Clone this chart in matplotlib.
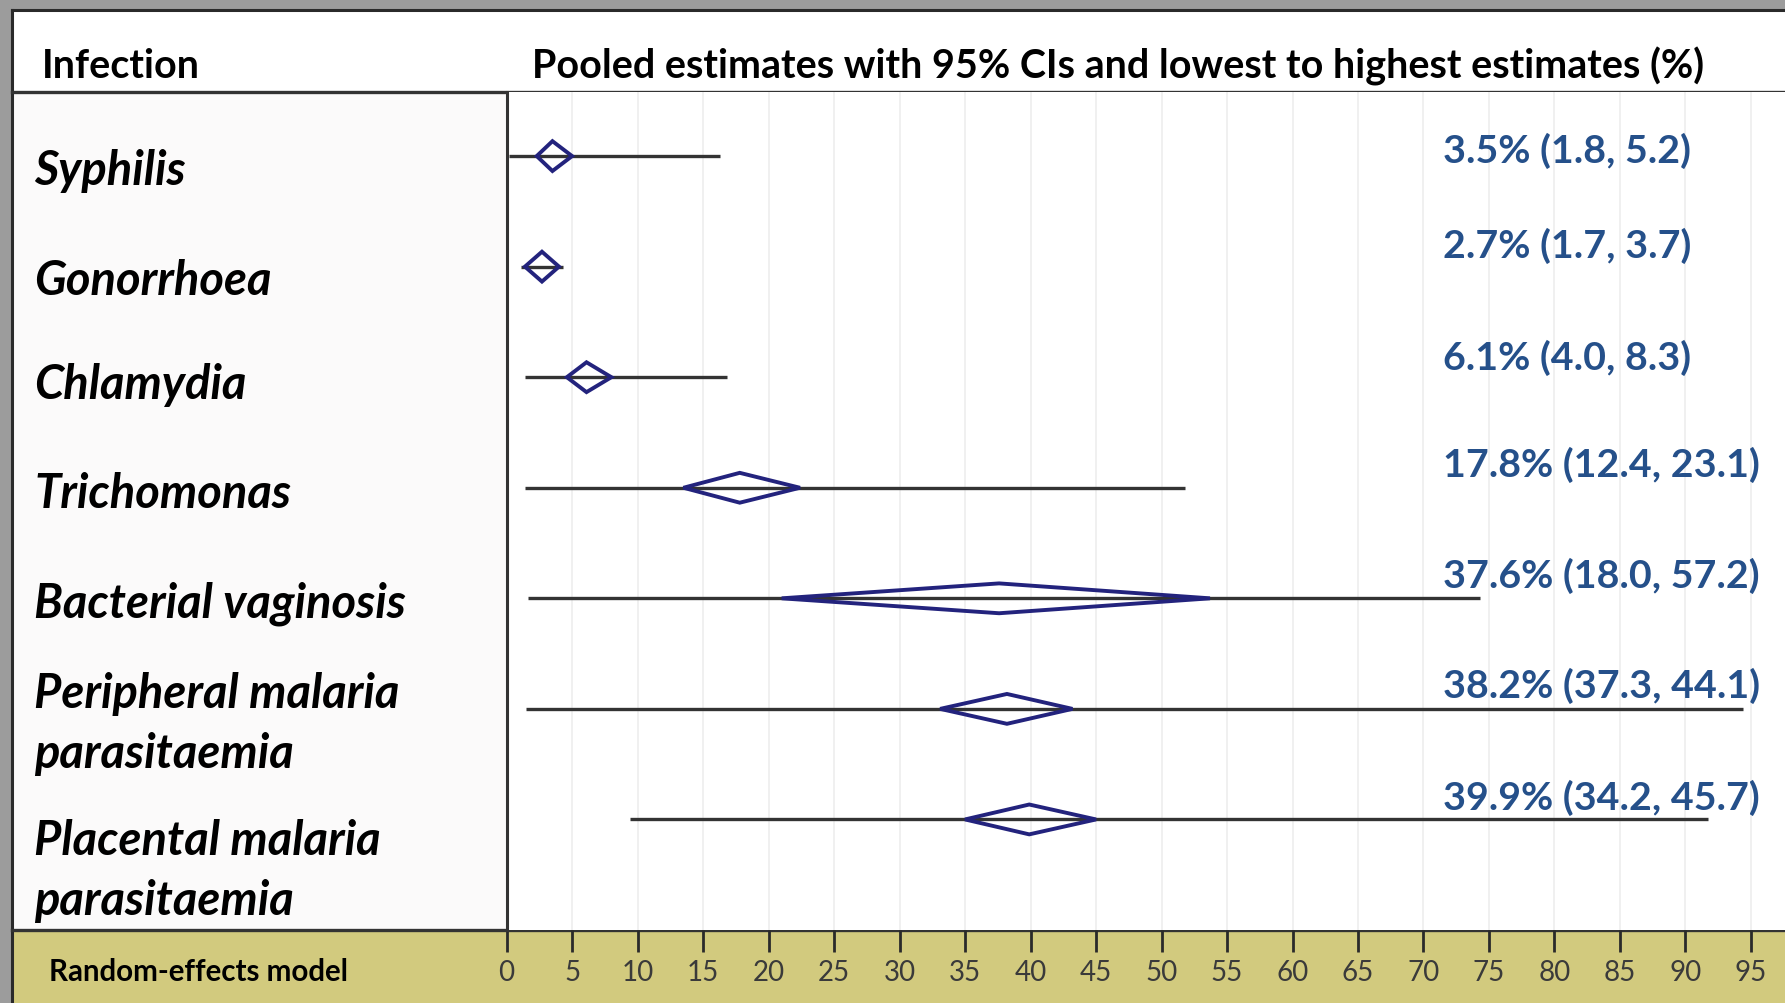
import matplotlib
matplotlib.use("Agg")
import matplotlib.pyplot as plt
import numpy as np
from matplotlib.patches import Rectangle, Polygon
from matplotlib.transforms import blended_transform_factory
from matplotlib import font_manager

# ---------------- data ----------------
infections = ["Syphilis", "Gonorrhoea", "Chlamydia", "Trichomonas",
              "Bacterial vaginosis", "Peripheral malaria\nparasitaemia",
              "Placental malaria\nparasitaemia"]
pooled = [3.5, 2.7, 6.1, 17.8, 37.6, 38.2, 39.9]
ci_low = [1.8, 1.7, 4.0, 12.4, 18.0, 37.3, 34.2]
ci_high = [5.2, 3.7, 8.3, 23.1, 57.2, 44.1, 45.7]
diamond_left = [2.3, 1.4, 4.6, 13.5, 21.0, 33.1, 35.0]
diamond_right = [5.0, 4.0, 8.0, 22.4, 53.7, 43.2, 45.0]
range_low = [0.2, 1.1, 1.4, 1.4, 1.6, 1.5, 9.4]
range_high = [16.3, 4.3, 16.8, 51.8, 74.3, 94.4, 91.7]
xticks = list(range(0, 100, 5))

header_left = "Infection"
header_right = "Pooled estimates with 95% CIs and lowest to highest estimates (%)"
footer = "Random-effects model"

# ---------------- layout ----------------
W, H = 1785, 1004
FONT = "Lato"
plt.rcParams["font.family"] = [FONT, "DejaVu Sans"]
available = {f.name for f in font_manager.fontManager.ttflist}
tick_font = "Liberation Sans Narrow" if "Liberation Sans Narrow" in available else FONT

fig = plt.figure(figsize=(W / 100, H / 100), dpi=100)

bg = fig.add_axes([0, 0, 1, 1], zorder=0)
bg.set_xlim(0, W)
bg.set_ylim(H, 0)
bg.axis("off")

frame_x, frame_y = 12, 11
header_y = 93.4
band_y = 931
axis_x0 = 506.6

bg.add_patch(Rectangle((0, 0), W, H, color="#9c9c9c", zorder=0))
bg.add_patch(Rectangle((frame_x, frame_y), W - frame_x, H - frame_y, color="white", zorder=1))
bg.add_patch(Rectangle((frame_x, header_y), axis_x0 - frame_x, band_y - header_y,
                       color="#fbfafa", zorder=1))
bg.add_patch(Rectangle((frame_x, band_y), W - frame_x, H - band_y, color="#d2ca7e", zorder=1))
bg.plot([frame_x, W], [frame_y, frame_y], color="#2a2a2a", lw=2.2, zorder=3)
bg.plot([frame_x, frame_x], [frame_y, H], color="#2a2a2a", lw=2.2, zorder=3)
bg.plot([frame_x, W], [header_y, header_y], color="#333333", lw=2.4, zorder=3)
bg.plot([frame_x, W], [band_y, band_y], color="#333333", lw=2.4, zorder=3)

ax = fig.add_axes([axis_x0 / W, (H - band_y) / H, (W - axis_x0) / W, (band_y - header_y) / H],
                  zorder=2)
ax.set_facecolor("white")
n = len(infections)
rows = np.arange(n)
ax.set_xlim(0, 97.6)
ax.set_ylim(7.0, -0.576)
for s in ["top", "right", "bottom"]:
    ax.spines[s].set_visible(False)
ax.spines["left"].set_color("#333333")
ax.spines["left"].set_linewidth(2.2)
ax.set_yticks([])
ax.set_xticks(xticks)
ax.set_xticklabels([str(t) for t in xticks], fontfamily=tick_font)
ax.tick_params(axis="x", direction="out", length=16, width=2, color="#2a2a2a",
               pad=5, labelsize=20, labelcolor="#3a3a3a")

ax.vlines(xticks[1:], -0.576, 7.0, color="#efefef", lw=1.3, zorder=0)

dh = 0.135
for i in rows:
    ax.plot([range_low[i], range_high[i]], [i, i], color="#333333", lw=2.4, zorder=3,
            solid_capstyle="butt")
    poly = Polygon([[diamond_left[i], i], [pooled[i], i - dh],
                    [diamond_right[i], i], [pooled[i], i + dh]],
                   closed=True, fill=False, edgecolor="#23237d", lw=2.8, zorder=4)
    ax.add_patch(poly)

# annotations
ann_dy = [-0.055, -0.195, -0.185, -0.215, -0.215, -0.215, -0.205]
ann_texts = []
for i in rows:
    t = ax.text(71.5, i + ann_dy[i], f"{pooled[i]}% ({ci_low[i]}, {ci_high[i]})",
                color="#25508a", fontweight="bold", fontsize=22, va="center", ha="left",
                zorder=5)
    ann_texts.append(t)

# left labels
lbl_tr = blended_transform_factory(fig.transFigure, ax.transData)
lbl_dy = [0.13, 0.12, 0.06, 0.045, 0.04, 0.13, 0.46]
lbl_texts = []
for i in rows:
    t = ax.text(34 / W, i + lbl_dy[i], infections[i], transform=lbl_tr,
                fontweight="bold", fontstyle="italic", fontsize=26, va="center",
                ha="left", color="black", linespacing=1.45, clip_on=False)
    lbl_texts.append(t)

h1 = bg.text(42, 66, header_left, fontweight="bold", fontsize=22, va="center",
             ha="left", color="black", zorder=5)
h2 = bg.text(531.6, 66, header_right, fontweight="bold", fontsize=22, va="center",
             ha="left", color="black", zorder=5)
f1 = bg.text(49, 972, footer, fontweight="bold", fontsize=18, va="center",
             ha="left", color="black", zorder=5)

# fit text sizes to target widths
fig.canvas.draw()
r = fig.canvas.get_renderer()


def fit(texts, ref, target):
    w = ref.get_window_extent(r).width
    s = ref.get_fontsize() * target / w
    for t in texts:
        t.set_fontsize(s)


fit([h1, h2], h2, 1172)
fit(lbl_texts, lbl_texts[4], 372)
fit(ann_texts, ann_texts[3], 315)
fit([f1], f1, 300)

fig.savefig("out.png", dpi=100)
